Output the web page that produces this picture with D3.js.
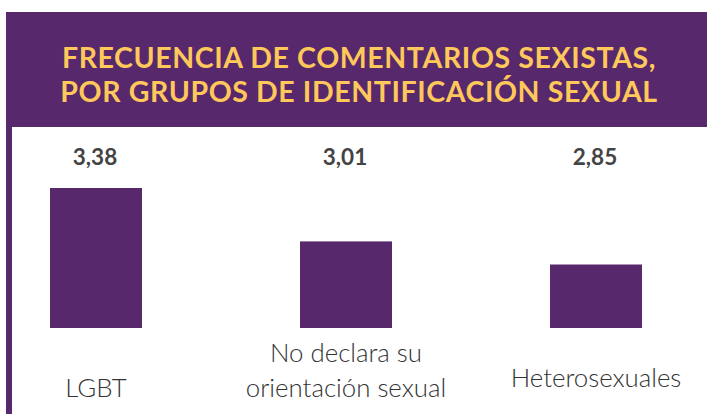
<!DOCTYPE html>
<html>
<head>
<meta charset="utf-8">
<script src="https://cdn.jsdelivr.net/npm/d3@7"></script>
<style>
  html, body { margin: 0; padding: 0; background: #fff; }
  svg { display: block; }
</style>
</head>
<body>
<svg id="chart" width="707" height="414"></svg>
<script>
// ---- data ----
const titleLines = ["FRECUENCIA DE COMENTARIOS SEXISTAS,", "POR GRUPOS DE IDENTIFICACIÓN SEXUAL"];
const categories = ["LGBT", "No declara su orientación sexual", "Heterosexuales"];
const categoryLabelLines = [["LGBT"], ["No declara su", "orientación sexual"], ["Heterosexuales"]];
const values = [3.38, 3.01, 2.85];
const valueLabels = ["3,38", "3,01", "2,85"];

// ---- styles ----
const purple = "#57286b";
const yellow = "#fec85b";
const textDark = "#444444";

const svg = d3.select("#chart");
const W = 707, H = 414;

// header banner
svg.append("rect").attr("x", 6).attr("y", 12).attr("width", W - 6).attr("height", 115).attr("fill", purple);
// left border
svg.append("rect").attr("x", 6).attr("y", 12).attr("width", 6).attr("height", H - 12).attr("fill", purple);

// title
const title = svg.append("text")
  .attr("x", 359).attr("text-anchor", "middle")
  .attr("font-family", "Lato, sans-serif").attr("font-weight", 700)
  .attr("font-size", 28.5).attr("letter-spacing", 0.6).attr("fill", yellow);
titleLines.forEach((t, i) => {
  title.append("tspan").attr("x", 359).attr("y", 68 + i * 34).text(t);
});

// scales
const x = d3.scaleBand().domain(categories).range([50, 642]).paddingInner(0.632).paddingOuter(0);
const y = d3.scaleLinear().domain([2.41, 3.38]).range([328, 188]);

// bars
svg.append("g").selectAll("rect").data(values).join("rect")
  .attr("x", (d, i) => x(categories[i]))
  .attr("y", d => y(d))
  .attr("width", x.bandwidth())
  .attr("height", d => y(y.domain()[0]) - y(d))
  .attr("fill", purple);

// value labels
svg.append("g").selectAll("text").data(valueLabels).join("text")
  .attr("x", (d, i) => x(categories[i]) + x.bandwidth() / 2 - 1)
  .attr("y", 165)
  .attr("text-anchor", "middle")
  .attr("font-family", "Lato, sans-serif").attr("font-weight", 700)
  .attr("font-size", 22.5).attr("fill", textDark)
  .text(d => d);

// category labels
const baselines = [[397], [362, 397], [387]];
const catG = svg.append("g");
categoryLabelLines.forEach((lines, i) => {
  const t = catG.append("text")
    .attr("text-anchor", "middle")
    .attr("font-family", "Lato, sans-serif").attr("font-weight", 300)
    .attr("font-size", 25.8).attr("fill", "#333333");
  lines.forEach((ln, j) => {
    t.append("tspan")
      .attr("x", x(categories[i]) + x.bandwidth() / 2)
      .attr("y", baselines[i][j])
      .text(ln);
  });
});
</script>
</body>
</html>
